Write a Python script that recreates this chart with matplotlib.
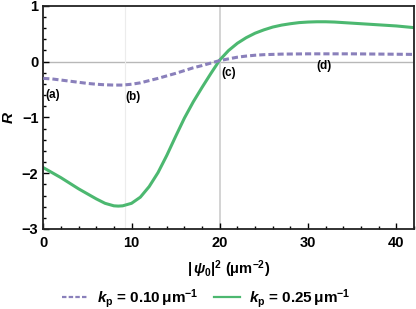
import matplotlib
matplotlib.use("Agg")
import matplotlib.pyplot as plt
from matplotlib.ticker import MultipleLocator

# data
x_a = [0, 1, 2, 3, 4, 5, 6, 7, 8, 9, 10, 11, 12, 13, 14, 15, 16, 17, 18, 19, 20,
       21, 22, 23, 24, 25, 27, 30, 35, 42]
R_a = [-0.30, -0.31, -0.33, -0.35, -0.37, -0.39, -0.405, -0.415, -0.42, -0.42, -0.405, -0.38,
       -0.34, -0.30, -0.255, -0.21, -0.16, -0.11, -0.07, -0.025, 0.02, 0.05, 0.08, 0.10, 0.115,
       0.125, 0.135, 0.14, 0.14, 0.13]

x_b = [0, 1, 2, 3, 4, 5, 6, 7, 8, 8.5, 9, 10, 11, 12, 13, 14, 15, 16, 17, 18, 19, 20,
       21, 22, 23, 24, 25, 26, 27, 28, 29, 30, 31, 32, 33, 34, 36, 38, 40, 42]
R_b = [-1.90, -1.99, -2.08, -2.18, -2.28, -2.37, -2.46, -2.54, -2.585, -2.59, -2.585, -2.54,
       -2.43, -2.24, -1.99, -1.68, -1.34, -1.01, -0.72, -0.46, -0.21, 0.03,
       0.20, 0.33, 0.43, 0.51, 0.57, 0.62, 0.655, 0.68, 0.70, 0.71, 0.715, 0.715, 0.71, 0.70,
       0.68, 0.66, 0.64, 0.61]

labels = ["(a)", "(b)", "(c)", "(d)"]
label_x = [1.1, 10.2, 21.0, 31.8]
label_y = [-0.59, -0.63, -0.21, -0.07]

legend_labels = [r"$k_\mathrm{p}$ = 0.10$\,$μm$^{-1}$", r"$k_\mathrm{p}$ = 0.25$\,$μm$^{-1}$"]

plt.rcParams['font.family'] = ['Liberation Sans', 'DejaVu Sans']
plt.rcParams['font.weight'] = 'bold'
plt.rcParams['axes.labelweight'] = 'bold'
plt.rcParams['mathtext.fontset'] = 'custom'
plt.rcParams['mathtext.rm'] = 'Liberation Sans:bold'
plt.rcParams['mathtext.it'] = 'Liberation Sans:bold:italic'
plt.rcParams['mathtext.bf'] = 'Liberation Sans:bold'

purple = "#8a80bb"
green = "#4cb870"

fig = plt.figure(figsize=(4.16, 3.09), dpi=100)
ax = fig.add_axes([0.104, 0.259, 0.891, 0.722])

ax.axhline(0, color="#b8b8b8", lw=1.0, zorder=1)
ax.axvline(20, color="#d0d0d0", lw=1.3, zorder=1)
ax.axvline(9.3, color="#ececec", lw=0.8, zorder=1)

l1, = ax.plot(x_a, R_a, color=purple, lw=2.2, dashes=(2.0, 1.0), zorder=3,
              dash_joinstyle='round')
l2, = ax.plot(x_b, R_b, color=green, lw=2.2, zorder=2, solid_joinstyle='round')

for t, xx, yy in zip(labels, label_x, label_y):
    ax.text(xx, yy, t, fontsize=8.5, fontweight='bold', ha='center', va='center')

ax.set_xlim(0, 42)
ax.set_ylim(-3, 1)
ax.xaxis.set_major_locator(MultipleLocator(10))
ax.xaxis.set_minor_locator(MultipleLocator(2))
ax.yaxis.set_major_locator(MultipleLocator(1))
ax.yaxis.set_minor_locator(MultipleLocator(0.2))
ax.tick_params(which='both', direction='in', top=False, right=False, labelsize=10.5, width=1.0)
ax.tick_params(which='major', length=4)
ax.tick_params(which='minor', length=2.2)
ax.tick_params(axis='x', pad=5)
ax.set_yticks([-3, -2, -1, 0, 1])
ax.set_yticklabels(["\u22123", "\u22122", "\u22121", "0", "1"])
for lab in ax.get_xticklabels() + ax.get_yticklabels():
    lab.set_fontweight('bold')
for s in ax.spines.values():
    s.set_linewidth(1.3)
    s.set_color('#222222')

ax.set_ylabel(r"$R$", fontsize=11, labelpad=4)
ax.set_xlabel(r"$|\,\psi_0|^2$ (μm$^{-2}$)", fontsize=10.5, labelpad=6, fontweight='bold')

leg = fig.legend([l1, l2], legend_labels, loc='center', bbox_to_anchor=(0.495, 0.035), ncol=2,
                 frameon=False, fontsize=11, handlelength=1.7, columnspacing=1.0,
                 handletextpad=0.6)
for h in leg.legend_handles:
    h.set_linewidth(1.6)

fig.savefig("out.png", dpi=100)
